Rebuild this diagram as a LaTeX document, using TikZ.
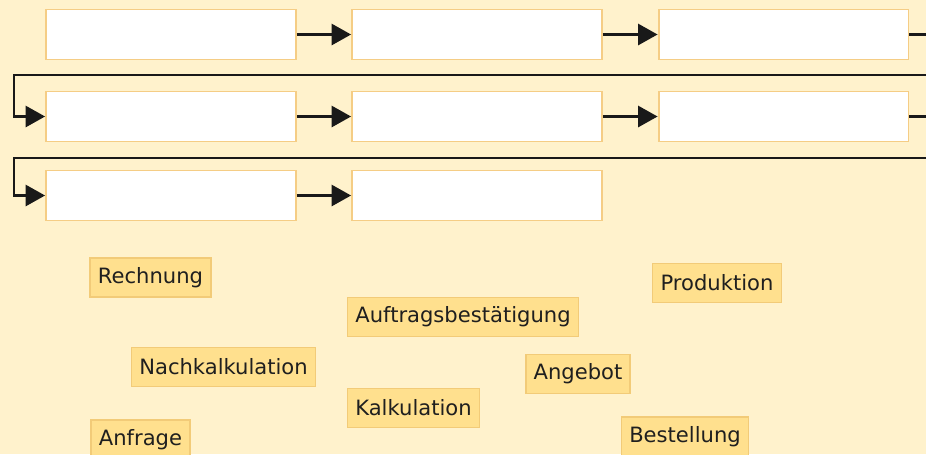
\documentclass[tikz,border=0pt]{standalone}
\usepackage{fontspec}
\setmainfont{DejaVu Sans}
\usetikzlibrary{arrows.meta}
\definecolor{paper}{HTML}{FFF2CC}
\definecolor{slotline}{HTML}{F5CD85}
\definecolor{cardfill}{HTML}{FFE08E}
\definecolor{cardline}{HTML}{F2CB78}
\tikzset{
  slot/.style={draw=slotline,line width=1.1pt,fill=white,minimum width=5cm,minimum height=1cm,inner sep=0pt},
  card/.style={draw=cardline,line width=0.9pt,fill=cardfill,minimum height=0.78cm,inner xsep=4.5pt,font=\fontsize{12}{14}\selectfont,text=black!88},
  flow/.style={line width=1.2pt,black!90,-{Triangle[length=11pt,width=12pt]}},
}

\begin{document}
\begin{tikzpicture}[x=0.02cm,y=-0.02cm]
\clip (0,0) rectangle (926,454);
\fill[paper] (0,0) rectangle (926,454);
% empty slots
\node[slot] (s1) at (171,34.5) {};
\node[slot] (s2) at (477,34.5) {};
\node[slot] (s3) at (783.5,34.5) {};
\node[slot] (s4) at (171,116.5) {};
\node[slot] (s5) at (477,116.5) {};
\node[slot] (s6) at (783.5,116.5) {};
\node[slot] (s7) at (171,195.5) {};
\node[slot] (s8) at (477,195.5) {};
\coordinate (r1) at (945,34.5);
\coordinate (r2) at (945,116.5);
\draw[flow] (s1) -- (s2);
\draw[flow] (s2) -- (s3);
\draw[flow] (s3.east) -- (r1) -- (945,75) -| (14,116.5) -- (s4.west);
\draw[flow] (s4) -- (s5);
\draw[flow] (s5) -- (s6);
\draw[flow] (s6.east) -- (r2) -- (945,158) -| (14,195.5) -- (s7.west);
\draw[flow] (s7) -- (s8);
% cards
\node[card] (rechnung) at (150.5,277.5) {Rechnung};
\node[card] (produktion) at (717,283) {Produktion};
\node[card] (auftrag) at (463,317) {Auftragsbestätigung};
\node[card] (nachkalk) at (223.5,367) {Nachkalkulation};
\node[card] (angebot) at (578,374) {Angebot};
\node[card] (kalk) at (413.5,408) {Kalkulation};
\node[card] (anfrage) at (140.5,439.5) {Anfrage};
\node[card] (bestellung) at (685,436.5) {Bestellung};
\end{tikzpicture}
\end{document}
